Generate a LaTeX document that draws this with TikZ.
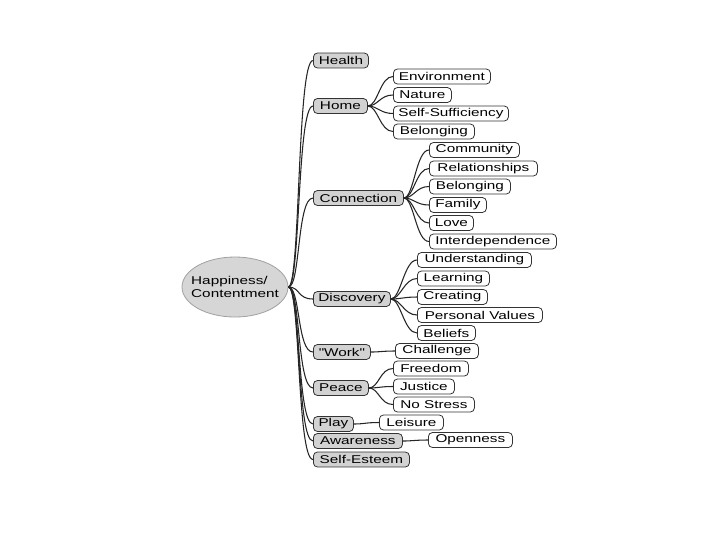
\documentclass[tikz,border=0pt]{standalone}
\usepackage{fontspec}
\newfontfamily\mmfont[FakeStretch=1.35]{Liberation Sans}
\usetikzlibrary{shapes.geometric}
\definecolor{lonefill}{HTML}{D2D2D2}
\definecolor{ellfill}{HTML}{D6D6D6}
\definecolor{ellline}{HTML}{A0A0A0}
\definecolor{boxline}{HTML}{333333}
\tikzset{
  base/.style={draw=boxline, line width=0.6pt, rounded corners=3pt, minimum height=11.2pt,
    inner sep=0pt, anchor=west, font=\mmfont\fontsize{8.5}{10}\selectfont},
  lone/.style={base, fill=lonefill, minimum width=#1*0.75pt},
  ltwo/.style={base, fill=white, minimum width=#1*0.75pt},
  conn/.style={draw=black!85, line width=0.8pt},
}
\begin{document}
\begin{tikzpicture}[x=0.75pt,y=-0.75pt]
\useasboundingbox (0,0) rectangle (720,540);
% centre
\node[ellipse, draw=ellline, line width=0.6pt, fill=ellfill, minimum width=79.5pt, minimum height=45pt,
  inner xsep=-5pt, inner ysep=0pt, align=left, font=\mmfont\fontsize{8.5}{9.2}\selectfont] (c) at (235,287) {Happiness/\\Contentment};
% level 1
\node[lone=55] (hea) at (313,60.5) {Health};
\node[lone=54] (hom) at (313,106) {Home};
\node[lone=90] (con) at (313,198) {Connection};
\node[lone=77] (dis) at (313,299) {Discovery};
\node[lone=57] (wor) at (313,352) {"Work"};
\node[lone=55] (pea) at (313,388) {Peace};
\node[lone=40] (pla) at (313,424) {Play};
\node[lone=89] (awa) at (313,441) {Awareness};
\node[lone=96] (sel) at (313,459.5) {Self-Esteem};
% home
\node[ltwo=97] (env) at (393,76.5) {Environment};
\node[ltwo=58] (nat) at (393,95) {Nature};
\node[ltwo=115] (ssf) at (393,113.5) {Self-Sufficiency};
\node[ltwo=81] (bel1) at (393,131.5) {Belonging};
% connection
\node[ltwo=90] (com) at (429,150) {Community};
\node[ltwo=108] (rel) at (429,168.5) {Relationships};
\node[ltwo=81] (bel2) at (429,186.5) {Belonging};
\node[ltwo=57] (fam) at (429,205) {Family};
\node[ltwo=44] (lov) at (429,223) {Love};
\node[ltwo=127] (int) at (429,241.5) {Interdependence};
% discovery
\node[ltwo=114] (und) at (417,260) {Understanding};
\node[ltwo=72] (lea) at (417,278.5) {Learning};
\node[ltwo=70] (cre) at (417,297) {Creating};
\node[ltwo=125] (pva) at (417,315) {Personal Values};
\node[ltwo=58] (bfs) at (417,333) {Beliefs};
% work
\node[ltwo=83] (cha) at (395,351) {Challenge};
% peace
\node[ltwo=75] (fre) at (393,368.5) {Freedom};
\node[ltwo=61] (jus) at (393,386.5) {Justice};
\node[ltwo=81] (nos) at (393,404.5) {No Stress};
% play
\node[ltwo=64] (lei) at (379,422.5) {Leisure};
% awareness
\node[ltwo=84] (ope) at (428,440) {Openness};
% connectors
\foreach \b in {hea,hom,con,dis,wor,pea,pla,awa,sel}
  \draw[conn] (c.east) .. controls +(12,0) and +(-16,0) .. (\b.west);
\foreach \a/\b in {hom/env,hom/nat,hom/ssf,hom/bel1,
                   con/com,con/rel,con/bel2,con/fam,con/lov,con/int,
                   dis/und,dis/lea,dis/cre,dis/pva,dis/bfs,
                   wor/cha,pea/fre,pea/jus,pea/nos,pla/lei,awa/ope}
  \draw[conn] (\a.east) .. controls +(10,0) and +(-13,0) .. (\b.west);
\end{tikzpicture}
\end{document}
